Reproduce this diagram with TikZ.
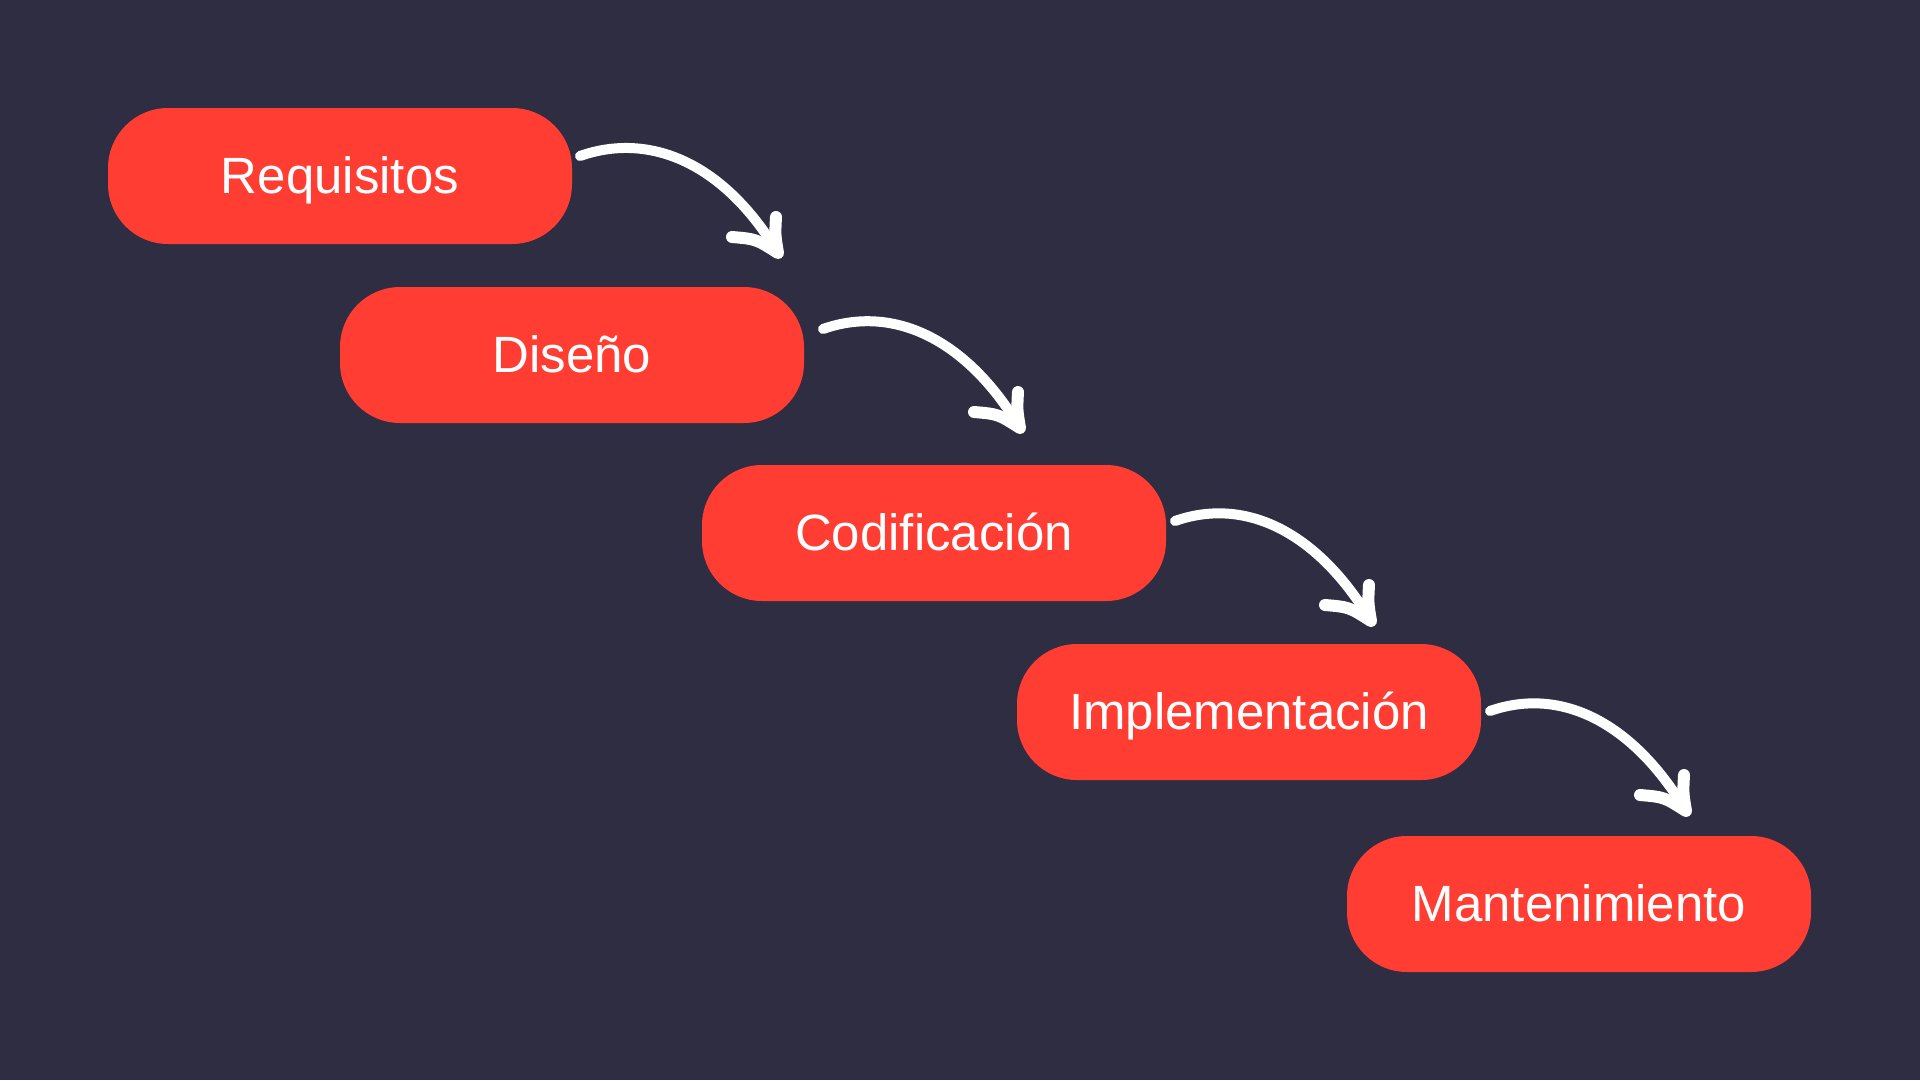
\documentclass[tikz,border=0pt]{standalone}
\usepackage{fontspec}
\setmainfont{Liberation Sans}
\usetikzlibrary{calc}
\definecolor{bgc}{HTML}{2E2D42}
\definecolor{boxred}{HTML}{FF3D33}
\tikzset{
  stagebox/.style={fill=boxred, draw=none, rounded corners=60pt,
    minimum width=464pt, minimum height=136pt, inner sep=0pt,
    text height=40pt, text depth=6pt,
    text=white, font=\fontsize{51}{60}\selectfont},
  flowline/.style={draw=white, line width=10pt, line cap=round, line join=round},
  barbline/.style={draw=white, line width=12pt, line cap=round, line join=round},
}
\begin{document}
\begin{tikzpicture}[x=1pt,y=-1pt]
  \fill[bgc] (0,0) rectangle (1920,1080);
  \useasboundingbox (0,0) rectangle (1920,1080);

  \node[stagebox] (req) at (340,176) {Requisitos};
  \node[stagebox] (dis) at (572,355) {Diseño};
  \node[stagebox] (cod) at (934,533) {Codificación};
  \node[stagebox] (imp) at (1249,712) {Implementación};
  \node[stagebox] (man) at (1579,904) {Mantenimiento};

  \coordinate (s1) at (580,156);  \coordinate (t1) at (778,253);
  \coordinate (s2) at (823,329);  \coordinate (t2) at (1020,428);
  \coordinate (s3) at (1175,521); \coordinate (t3) at (1371,621);
  \coordinate (s4) at (1490,711); \coordinate (t4) at (1686,811);

  \foreach \i in {1,2,3,4}{
    \draw[flowline] (s\i) .. controls ($(s\i)+(68,-24)$) and ($(t\i)+(-55,-92)$) .. (t\i);
    \draw[barbline] ($(t\i)+(-2,-36)$) .. controls ($(t\i)+(-3,-18)$) .. (t\i)
      .. controls ($(t\i)+(-22,-14)$) .. ($(t\i)+(-46,-16)$);
  }
\end{tikzpicture}
\end{document}
